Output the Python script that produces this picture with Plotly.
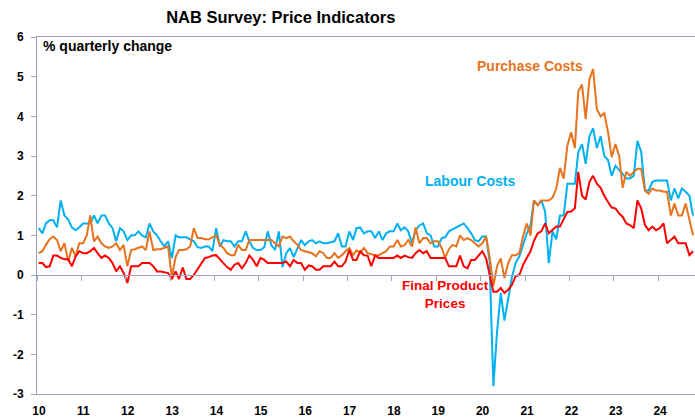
import pandas as pd
import plotly.graph_objects as go

# NAB monthly business survey, % quarterly change, Jan 2010 - Oct 2024
start_month = "2010-01-01"

labour_costs = [
    1.18, 1.05, 1.3, 1.38, 1.38, 1.2, 1.88, 1.5, 1.4, 1.2, 1.13, 1.2,        # 2010
    1.3, 1.3, 1.3, 1.5, 1.3, 1.5, 1.5, 1.3, 1.18, 0.85, 1.18, 1.1,           # 2011
    0.88, 1.0, 1.0, 1.1, 1.0, 0.95, 1.3, 1.1, 1.0, 0.85, 0.72, 0.85,         # 2012
    0.42, 1.0, 0.95, 0.95, 0.95, 0.9, 0.85, 0.7, 0.68, 0.72, 0.72, 0.6,      # 2013
    1.18, 0.72, 0.88, 0.85, 0.85, 0.72, 0.85, 0.85, 1.1, 0.85, 0.68, 0.63,   # 2014
    0.63, 0.7, 1.1, 0.75, 0.63, 1.1, 0.2, 0.55, 0.68, 0.45, 0.65, 0.88,      # 2015
    0.75, 0.85, 0.88, 0.8, 0.85, 0.8, 0.8, 0.82, 0.85, 1.05, 0.72, 0.72,     # 2016
    1.1, 0.88, 1.18, 1.2, 1.05, 1.1, 1.1, 0.93, 1.1, 0.88, 1.05, 1.1,        # 2017
    1.1, 1.3, 1.13, 1.2, 1.1, 0.8, 1.13, 1.25, 1.3, 1.05, 1.0, 0.72,         # 2018
    0.72, 0.93, 0.95, 1.1, 1.15, 1.2, 1.25, 1.3, 1.18, 1.05, 0.88, 0.85,     # 2019
    0.97, 0.97, 0.35, -2.8, -1.45, -0.45, -1.15, -0.55, -0.05, 0.3, 0.47, 0.75,  # 2020
    1.05, 1.26, 1.88, 1.76, 1.88, 1.6, 0.3, 1.1, 0.9, 1.5, 1.5, 2.3,         # 2021
    2.3, 2.3, 3.1, 3.3, 2.8, 3.5, 3.7, 3.2, 3.5, 3.0, 2.9, 2.5,              # 2022
    2.75, 2.65, 2.55, 2.43, 2.43, 2.5, 3.38, 3.1, 2.13, 2.13, 2.35, 2.38,    # 2023
    2.38, 2.38, 2.38, 1.88, 2.18, 1.93, 2.18, 2.1, 2.0, 1.5,                 # 2024
]

purchase_costs = [
    0.55, 0.6, 0.76, 0.9, 0.97, 0.88, 0.6, 0.8, 0.34, 0.68, 0.47, 0.8,       # 2010
    0.8, 1.0, 1.5, 0.85, 0.97, 0.8, 0.72, 0.68, 0.72, 0.8, 0.63, 0.76,       # 2011
    0.22, 0.63, 0.65, 0.68, 0.72, 0.63, 1.1, 0.63, 0.65, 0.65, 0.68, 0.72,   # 2012
    -0.05, 0.45, 0.63, 0.63, 0.65, 0.72, 1.18, 0.93, 0.93, 0.9, 0.9, 0.95,   # 2013
    1.0, 0.76, 0.68, 0.55, 0.5, 0.5, 0.76, 0.63, 0.63, 0.88, 0.88, 0.88,     # 2014
    0.88, 0.88, 0.88, 0.88, 0.8, 0.72, 0.97, 0.93, 0.97, 0.85, 0.76, 0.63,   # 2015
    0.6, 0.58, 0.55, 0.47, 0.6, 0.55, 0.43, 0.43, 0.55, 0.43, 0.5, 0.6,      # 2016
    0.68, 0.5, 0.62, 0.55, 0.68, 0.55, 0.52, 0.5, 0.5, 0.55, 0.6, 0.72,      # 2017
    0.72, 0.88, 0.72, 0.75, 0.88, 0.72, 1.2, 0.8, 0.93, 0.93, 0.8, 0.85,     # 2018
    0.85, 0.68, 0.43, 0.65, 0.76, 0.72, 1.0, 0.88, 0.93, 0.88, 0.8, 0.72,    # 2019
    0.8, 0.97, 0.47, -0.28, 0.22, 0.42, -0.08, 0.3, 0.5, 0.5, 0.55, 0.97,    # 2020
    1.3, 1.0, 1.88, 1.76, 1.88, 1.88, 1.88, 1.95, 2.18, 2.7, 2.43, 3.26,     # 2021
    3.6, 3.2, 4.63, 4.8, 3.93, 4.93, 5.19, 4.18, 4.0, 4.08, 3.6, 2.97,       # 2022
    3.3, 3.0, 2.2, 2.6, 2.5, 2.6, 2.68, 2.68, 2.13, 2.05, 2.18, 2.13,        # 2023
    2.13, 2.1, 2.1, 1.5, 1.8, 1.5, 1.5, 1.8, 1.43, 1.0,                      # 2024
]

final_prices = [
    0.3, 0.3, 0.2, 0.22, 0.49, 0.49, 0.43, 0.4, 0.4, 0.22, 0.47, 0.6,        # 2010
    0.55, 0.55, 0.6, 0.68, 0.55, 0.43, 0.49, 0.43, 0.3, 0.09, 0.22, 0.05,    # 2011
    -0.2, 0.22, 0.22, 0.22, 0.3, 0.3, 0.3, 0.22, 0.09, 0.09, 0.07, 0.05,     # 2012
    -0.1, 0.09, -0.1, 0.19, -0.1, -0.1, 0.0, 0.15, 0.3, 0.43, 0.45, 0.49,    # 2013
    0.5, 0.38, 0.3, 0.2, 0.13, 0.26, 0.3, 0.17, 0.3, 0.49, 0.38, 0.22,       # 2014
    0.43, 0.38, 0.3, 0.3, 0.3, 0.3, 0.3, 0.34, 0.22, 0.38, 0.3, 0.3,         # 2015
    0.13, 0.24, 0.22, 0.13, 0.13, 0.22, 0.22, 0.22, 0.34, 0.22, 0.22, 0.34,  # 2016
    0.63, 0.38, 0.38, 0.6, 0.5, 0.49, 0.22, 0.49, 0.43, 0.43, 0.43, 0.43,    # 2017
    0.43, 0.49, 0.43, 0.49, 0.45, 0.43, 0.55, 0.63, 0.55, 0.6, 0.43, 0.43,   # 2018
    0.43, 0.43, 0.43, 0.22, 0.22, 0.22, 0.49, 0.22, 0.17, 0.38, 0.38, 0.49,  # 2019
    0.6, 0.42, 0.0, -0.42, -0.42, -0.33, -0.45, -0.37, -0.25, -0.03, 0.0, 0.25,  # 2020
    0.43, 0.6, 0.86, 1.05, 1.1, 1.3, 1.05, 1.13, 1.22, 1.22, 1.43, 1.59,     # 2021
    1.6, 1.68, 2.6, 2.0, 1.9, 2.35, 2.5, 2.3, 2.2, 2.0, 1.84, 1.7,           # 2022
    1.68, 1.55, 1.47, 1.3, 1.26, 1.18, 1.88, 1.68, 1.26, 1.13, 1.22, 1.13,   # 2023
    1.18, 1.3, 0.8, 0.88, 0.97, 0.8, 0.8, 0.8, 0.5, 0.6,                     # 2024
]

years = list(range(2010, 2025))
year_labels = [str(y)[2:] for y in years]
y_ticks = list(range(-3, 7))
y_labels = [str(v) for v in y_ticks]   # plain hyphen for negatives

FONT = "Arial, 'Liberation Sans', sans-serif"
AXIS_COL = "#9EA5C4"
BLUE = "#00B0F0"
ORANGE = "#E8731E"
RED = "#FF0000"

# points sit mid-month
months = pd.date_range(start_month, periods=len(labour_costs), freq="MS") + pd.Timedelta(days=14)
year_ticks = [f"{y}-01-01" for y in years]

fig = go.Figure()
fig.add_trace(go.Scatter(x=months, y=labour_costs, mode="lines",
                         line=dict(color=BLUE, width=2), name="Labour Costs"))
fig.add_trace(go.Scatter(x=months, y=purchase_costs, mode="lines",
                         line=dict(color=ORANGE, width=2), name="Purchase Costs"))
# red on the overlay axis, which also draws the ticked zero line
fig.add_trace(go.Scatter(x=months, y=final_prices, mode="lines", xaxis="x2",
                         line=dict(color=RED, width=2), name="Final Product Prices"))

fig.update_layout(
    width=695, height=418,
    margin=dict(l=37, r=0, t=37, b=21),
    paper_bgcolor="white", plot_bgcolor="white",
    showlegend=False,
    font=dict(family=FONT, color="black"),
    title=dict(text="NAB Survey: Price Indicators", x=0.404, xanchor="center",
               y=0.959, yanchor="middle", yref="container",
               font=dict(family=FONT, size=16.5, color="black", weight="bold")),
    xaxis=dict(type="date", range=["2010-01-01", "2024-10-31"],
               tickvals=year_ticks, ticktext=year_labels, ticks="",
               ticklabelstandoff=6, ticklabelshift=2,
               showline=True, linecolor=AXIS_COL, linewidth=1, mirror=True,
               showgrid=False, zeroline=False,
               tickfont=dict(size=12, weight="bold")),
    xaxis2=dict(type="date", overlaying="x", matches="x", anchor="free", position=1 / 3,
                tickvals=year_ticks, showticklabels=False,
                ticks="outside", ticklen=5, tickcolor=AXIS_COL,
                showline=True, linecolor=AXIS_COL, linewidth=1,
                showgrid=False, zeroline=False),
    yaxis=dict(range=[-3, 6], tickvals=y_ticks, ticktext=y_labels,
               ticks="outside", ticklen=5, tickcolor=AXIS_COL,
               ticklabelstandoff=5,
               showline=True, linecolor=AXIS_COL, linewidth=1,
               showgrid=False, zeroline=False,
               tickfont=dict(size=12, weight="bold")),
)

labels = [
    ("% quarterly change", "2010-02-01", 5.77, "left", "black", 14),
    ("Purchase Costs", "2021-02-10", 5.27, "center", ORANGE, 14),
    ("Labour Costs", "2019-10-05", 2.36, "center", BLUE, 14),
    ("Final Product<br>Prices", "2019-03-20", -0.5, "center", RED, 13.5),
]
for text, x, y, anchor, col, size in labels:
    fig.add_annotation(text=text, x=x, y=y, xref="x", yref="y", xanchor=anchor,
                       yanchor="middle", showarrow=False,
                       font=dict(family=FONT, size=size, color=col, weight="bold"))

# drop the browser's default 8px body margin so the figure fills the window
fig.write_html("out.html", config={"displayModeBar": False},
               post_script="document.body.style.margin = '0';")
